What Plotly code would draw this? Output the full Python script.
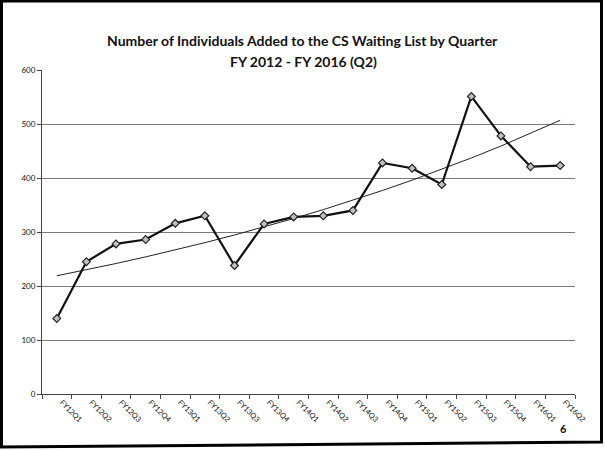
import numpy as np
import plotly.graph_objects as go

# Quarterly counts of individuals added to the CS waiting list
quarters = ["FY12Q1", "FY12Q2", "FY12Q3", "FY12Q4", "FY13Q1", "FY13Q2",
            "FY13Q3", "FY13Q4", "FY14Q1", "FY14Q2", "FY14Q3", "FY14Q4",
            "FY15Q1", "FY15Q2", "FY15Q3", "FY15Q4", "FY16Q1", "FY16Q2"]
added = [140, 245, 278, 286, 316, 330, 238, 315, 328, 330, 340, 428,
         418, 388, 551, 478, 421, 423]
y_ticks = [0, 100, 200, 300, 400, 500, 600]

# Exponential trend (least squares on log values, as a spreadsheet does)
idx = np.arange(1, len(added) + 1)
b, a = np.polyfit(idx, np.log(added), 1)
trend = np.exp(a + b * idx)

FONT = "Lato, Carlito, Calibri, sans-serif"
L, R, T, B = 42, 30, 70, 56
PW, PH = 605 - L - R, 450 - T - B


def px(x):
    return (x - L) / PW


def py(y):
    return (450 - B - y) / PH


fig = go.Figure()
fig.add_trace(go.Scatter(
    x=quarters, y=trend, mode="lines",
    line=dict(color="#222222", width=1), hoverinfo="skip", showlegend=False))
fig.add_trace(go.Scatter(
    x=quarters, y=added, mode="lines+markers",
    line=dict(color="#111111", width=2.2),
    marker=dict(symbol="diamond", size=6, color="#c0c0c0",
                line=dict(color="#222222", width=1.2)),
    showlegend=False))

fig.update_layout(
    width=605, height=450,
    margin=dict(l=L, r=R, t=T, b=B),
    paper_bgcolor="white", plot_bgcolor="white",
    font=dict(family=FONT, color="#111111"),
    xaxis=dict(
        type="category", tickson="boundaries", ticks="outside", ticklen=4,
        tickcolor="#444444", tickangle=45, showline=True, linecolor="#444444",
        linewidth=1, showgrid=False, ticklabelshift=5,
        tickfont=dict(size=7.5, color="#111111"),
        range=[-0.5, len(quarters) - 0.5]),
    yaxis=dict(
        range=[0, 600], tickvals=y_ticks, ticks="outside", ticklen=4,
        tickcolor="#444444", showline=True, linecolor="#444444", linewidth=1,
        showgrid=True, gridcolor="#7a7a7a", gridwidth=1, zeroline=False,
        tickfont=dict(size=8, color="#111111")),
)

# Two-line chart title
fig.add_annotation(text="<b>Number of Individuals Added to the CS Waiting List by Quarter</b>",
                   xref="paper", yref="paper", x=px(302), y=py(40),
                   xanchor="center", yanchor="middle", showarrow=False,
                   font=dict(size=14, family=FONT, color="#111111"))
fig.add_annotation(text="<b>FY 2012 - FY 2016 (Q2)</b>",
                   xref="paper", yref="paper", x=px(303), y=py(61),
                   xanchor="center", yanchor="middle", showarrow=False,
                   font=dict(size=14, family=FONT, color="#111111"))

# Page number
fig.add_annotation(text="<b>6</b>", xref="paper", yref="paper",
                   x=px(563), y=py(428), xanchor="center", yanchor="middle",
                   showarrow=False, font=dict(size=11, family=FONT))

# Page frame
fig.add_shape(type="path", xref="paper", yref="paper",
              path="M {} {} L {} {} L {} {} L {} {} Z".format(
                  px(1.5), py(1), px(601.5), py(1),
                  px(601.5), py(442), px(1.5), py(447)),
              line=dict(color="black", width=3))

fig.write_html("out.html")
